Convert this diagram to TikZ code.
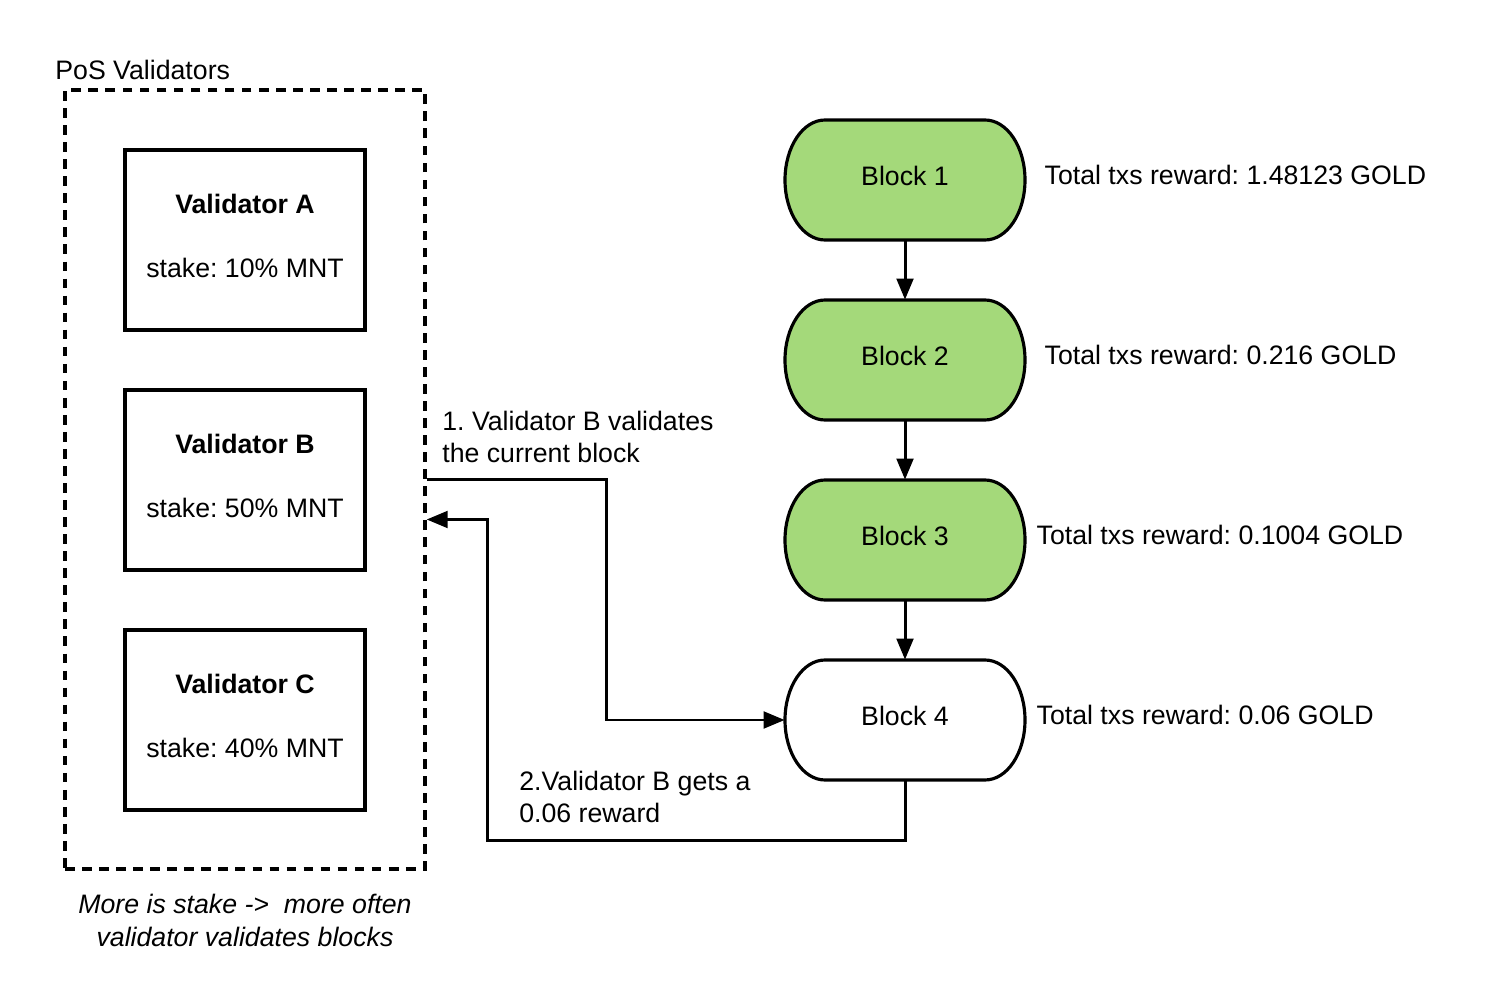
\documentclass[tikz,border=0pt]{standalone}
\usepackage{fontspec}
\setmainfont{Liberation Sans}
\usepackage{xcolor}
\definecolor{blockgreen}{HTML}{A4D97A}
\usepackage{tikz}
\usetikzlibrary{arrows.meta, positioning, calc}

% stadium-like block: name, x, y, fill, text
\newcommand{\blockshape}[5]{
  \draw[line width=1.8pt, fill=#4] (#2-80,#3-60) -- (#2+80,#3-60)
    arc[start angle=-90, end angle=90, x radius=40, y radius=60]
    -- (#2-80,#3+60)
    arc[start angle=90, end angle=270, x radius=40, y radius=60] -- cycle;
  \node[blk] (#1) at (#2,#3) {\raisebox{4.5pt}{#5}};
}

\begin{document}
\frenchspacing
\begin{tikzpicture}[
  x=0.02cm, y=-0.02cm,
  font=\fontsize{15.2}{18.5}\selectfont,
  validator/.style={draw, line width=1.8pt, minimum width=4.8cm, minimum height=3.6cm,
    align=center, text depth=4.5pt},
  blk/.style={minimum width=4.8cm, minimum height=2.4cm, inner sep=0pt},
  reward/.style={anchor=west, inner sep=0pt, yshift=0.1cm},
  note/.style={anchor=west, align=left, inner sep=0pt},
  arr/.style={line width=1.7pt, -{Triangle[length=12pt, width=9.5pt]}}
]
  \useasboundingbox (0,0) rectangle (1508,1006);

  % validators
  \node[draw, line width=1.9pt, dash pattern=on 5.5pt off 4.2pt,
    minimum width=7.2cm, minimum height=15.58cm] (pos) at (245,479.5) {};
  \node[anchor=west, inner sep=0pt] (title) at (55,70) {PoS Validators};

  \node[validator] (va) at (245,240) {\textbf{Validator A}\\[18pt]stake: 10\% MNT};
  \node[validator] (vb) at (245,480) {\textbf{Validator B}\\[18pt]stake: 50\% MNT};
  \node[validator] (vc) at (245,720) {\textbf{Validator C}\\[18pt]stake: 40\% MNT};

  \node[font=\fontsize{15.2}{18.8}\selectfont\itshape, align=center, below=0.35cm of pos]
    (hint) {More is stake -> ~more often\\validator validates blocks};

  % chain
  \blockshape{b1}{905}{180}{blockgreen}{Block 1}
  \blockshape{b2}{905}{360}{blockgreen}{Block 2}
  \blockshape{b3}{905}{540}{blockgreen}{Block 3}
  \blockshape{b4}{905}{720}{white}{Block 4}

  \node[reward, right=0.38cm of b1] (r1) {Total txs reward: 1.48123 GOLD};
  \node[reward, right=0.38cm of b2] (r2) {Total txs reward: 0.216 GOLD};
  \node[reward, right=0.22cm of b3] (r3) {Total txs reward: 0.1004 GOLD};
  \node[reward, right=0.22cm of b4] (r4) {Total txs reward: 0.06 GOLD};

  \draw[arr] (b1) -- (b2);
  \draw[arr] (b2) -- (b3);
  \draw[arr] (b3) -- (b4);

  % validation and reward
  \coordinate (ret) at ($(pos.east)+(0,40)$);
  \draw[arr] (pos.east) -- ++(180,0) |- (b4.west);
  \draw[arr] (b4.south) -- ++(0,60) -| ($(ret)+(61,0)$) -- (ret);

  \node[note] (n1) at (442,437) {1. Validator B validates\\the current block};
  \node[note] (n2) at (519,797) {2.Validator B gets a\\0.06 reward};
\end{tikzpicture}
\end{document}
